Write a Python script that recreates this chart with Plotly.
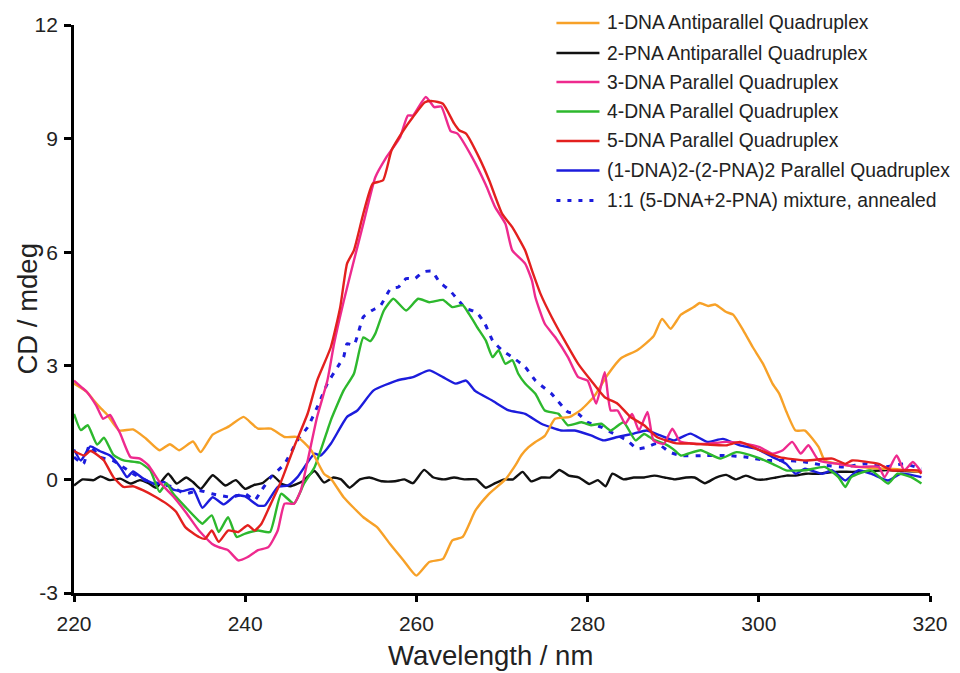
import plotly.graph_objects as go

# ---------------- data (wavelength in nm, CD in mdeg) ----------------
wl_1dna = [220, 221.5, 222.3, 223, 223.9, 225.3, 226.9, 228.4, 230, 231.2, 232.3, 233.9, 234.8,
           236.2, 238.1, 239.8, 240.8, 241.5, 243, 244.6, 246.1, 247.7, 249.2, 250, 251.5, 253.8,
           255.4, 256.9, 258.5, 260, 261.5, 263.1, 264.2, 265.4, 266.9, 268.4, 270.4, 271.5, 272.3,
           273.1, 273.9, 275, 276.2, 277.9, 279.3, 280.8, 282.3, 283.9, 285.8, 287.7, 288.7, 289.7,
           290.9, 292.4, 293.1, 294.1, 294.9, 296.2, 297, 298.2, 299.3, 300.5, 301.6, 302.4, 303.2,
           304.3, 305.4, 307, 307.7, 309.3, 311, 313, 315, 317, 319]
cd_1dna = [2.53, 2.31, 2.09, 1.91, 1.7, 1.29, 1.32, 1.08, 0.77, 0.93, 0.77, 1.0, 0.72,
           1.18, 1.4, 1.65, 1.47, 1.34, 1.34, 1.12, 1.12, 0.77, 0.15, 0.02, -0.47, -1.0,
           -1.26, -1.7, -2.14, -2.54, -2.18, -2.1, -1.61, -1.52, -0.82, -0.4, 0.0, 0.35, 0.65,
           0.85, 0.99, 1.15, 1.6, 1.65, 1.85, 2.2, 2.75, 3.2, 3.41, 3.78, 4.24, 3.98,
           4.35, 4.55, 4.66, 4.58, 4.62, 4.42, 4.35, 3.93, 3.49, 3.05, 2.53, 2.26, 1.8,
           1.29, 1.29, 0.85, 0.5, 0.41, 0.35, 0.3, 0.28, 0.25, 0.2]

wl_2pna = [220, 221, 222.3, 223.1, 224.2, 225.4, 226.6, 227.7, 228.7, 229.6, 231, 232, 233.1, 233.9,
           234.8, 236.2, 237.7, 238.9, 240, 241, 242, 243.2, 244.3, 245.3, 246.7, 248.1, 249.2,
           250.3, 251.2, 252.2, 253.4, 254.5, 256, 257.5, 258.6, 259.6, 260.9, 262, 263.2, 264.4,
           265.6, 267, 268.1, 269.2, 270.3, 271.3, 272.4, 273.4, 274.6, 275.6, 276.7, 277.8, 279,
           280.2, 281.2, 282.1, 282.9, 284.2, 285.4, 286.6, 287.8, 289, 290.2, 291.5, 292.5, 293.7,
           295, 296.2, 297.3, 298.5, 299.7, 300.8, 302, 303.2, 304.3, 305.5, 307, 309, 311, 313,
           315, 317, 319]
cd_2pna = [-0.16, 0.0, -0.02, 0.08, -0.02, 0.02, -0.11, -0.02, -0.1, -0.22, 0.15, -0.11, 0.05, -0.07,
           -0.25, 0.11, -0.16, -0.02, -0.25, -0.15, -0.1, 0.1, -0.12, -0.18, -0.05, 0.22, -0.08,
           0.05, 0.0, -0.22, 0.0, 0.05, -0.05, -0.05, 0.0, -0.1, 0.25, 0.05, 0.0, 0.05,
           0.0, 0.0, -0.22, -0.1, 0.0, 0.0, 0.2, -0.05, 0.05, 0.05, 0.25, 0.1, 0.05,
           -0.12, -0.02, -0.18, 0.15, 0.0, 0.05, 0.05, 0.1, 0.05, 0.0, 0.05, 0.05, -0.1,
           0.05, 0.12, 0.0, 0.1, 0.0, 0.0, 0.05, 0.1, 0.1, 0.15, 0.15, 0.2, 0.2, 0.22,
           0.25, 0.22, 0.2]

wl_3dna = [220, 220.8, 221.5, 222.6, 223.4, 224.2, 224.8, 225.4, 226.6, 227.7, 228.7, 230, 231.6,
           233.1, 234.6, 236.1, 236.9, 238, 239.2, 240.3, 241.5, 242.7, 243.8, 244.6, 245.7, 246.5,
           247.3, 248.4, 249.6, 250.4, 251.5, 252.7, 253.8, 255.2, 256.5, 258.1, 259, 259.6, 261.1,
           262.1, 262.9, 264, 264.8, 266.5, 268.1, 269.2, 270.4, 271.2, 272.7, 273.5, 273.9, 275,
           276.2, 277.7, 278.9, 280, 281, 282, 282.7, 283.5, 284.4, 285.2, 286, 287, 287.7, 288.9,
           289.9, 290.8, 292.4, 294, 296.2, 298.5, 300.1, 301.6, 302.8, 303.9, 304.9, 305.8, 307,
           309.3, 311.6, 314, 314.7, 316.1, 317, 318, 319]
cd_3dna = [2.61, 2.45, 2.31, 1.95, 1.6, 1.7, 1.47, 1.21, 0.59, 0.55, 0.37, -0.07, -0.45,
           -0.88, -1.35, -1.7, -1.79, -1.87, -2.14, -2.05, -1.87, -1.79, -1.35, -0.64, -0.64, -0.29,
           0.5, 1.65, 2.61, 3.6, 4.7, 5.78, 6.75, 7.98, 8.51, 9.04, 9.61, 9.61, 10.1,
           9.83, 9.85, 9.2, 9.13, 8.51, 7.78, 7.19, 6.75, 6.05, 5.7, 5.25, 4.81, 4.11,
           3.76, 3.23, 2.7, 2.61, 2.0, 2.83, 1.82, 1.82, 1.47, 1.73, 1.29, 1.78, 1.03, 0.94,
           1.34, 1.0, 0.94, 0.94, 0.99, 0.94, 0.85, 0.68, 0.77, 0.99, 0.68, 0.9, 0.5,
           0.41, 0.33, 0.33, 0.06, 0.63, 0.24, 0.46, 0.19]

wl_4dna = [220, 220.8, 221.6, 222.7, 223.5, 224.6, 225.8, 227.7, 228.9, 230, 230.8, 231.6, 233.1,
           234.6, 235, 236.1, 236.9, 238, 239, 240, 241.5, 242.9, 244.2, 245.7, 246.9, 248.1,
           249.6, 250, 251.5, 252.7, 253.8, 254.6, 255.2, 256.2, 257.3, 258.8, 260.2, 261.5, 263.1,
           264.2, 265.4, 266.2, 267.3, 268.1, 268.9, 269.6, 270.4, 271.2, 271.9, 272.7, 273.9, 275,
           276.6, 277.7, 279.3, 280.4, 281.6, 282.7, 284.2, 285.6, 286.6, 287.7, 288.9, 290, 290.9,
           293.2, 295.5, 297.4, 299.7, 301.6, 303.2, 305.4, 307.7, 309.3, 310.1, 310.8, 313.1, 315.1,
           316.2, 317.8, 319]
cd_4dna = [1.73, 1.3, 1.43, 0.92, 1.1, 0.65, 0.5, 0.44, 0.24, -0.33, -0.1, -0.38, -0.75,
           -1.1, -1.17, -0.95, -1.39, -1.0, -1.52, -1.43, -1.35, -1.39, -0.38, -0.64, -0.1, 0.32,
           1.29, 1.56, 2.35, 2.79, 3.75, 3.65, 3.85, 4.46, 4.77, 4.46, 4.77, 4.68, 4.74,
           4.55, 4.6, 4.35, 3.95, 3.67, 3.23, 3.41, 3.05, 3.15, 2.79, 2.53, 2.26, 1.82,
           1.73, 1.43, 1.51, 1.43, 1.47, 1.29, 1.51, 1.03, 1.2, 1.05, 0.95, 0.8, 0.63,
           0.77, 0.55, 0.72, 0.59, 0.41, 0.24, 0.24, 0.33, 0.06, -0.2, 0.06, 0.24, -0.11,
           0.15, 0.06, -0.11]

wl_5dna = [220, 221.2, 221.9, 223, 223.5, 224.6, 225.8, 226.9, 228.1, 229.6, 230.8, 231.9, 233,
           234.6, 235.3, 236.1, 236.9, 238, 239.2, 240.3, 241.1, 241.9, 243, 244.2, 245.7, 247.3,
           248.4, 250, 251.1, 251.9, 252.7, 253.8, 254.9, 256.1, 257.1, 258.5, 259.6, 261, 261.9,
           263.1, 264.4, 265, 265.8, 267.3, 268.5, 270, 271.2, 272.7, 273.5, 274.5, 275.8, 277.3,
           278.9, 280.4, 282, 283.5, 285, 286.6, 288.1, 290.4, 292, 294, 296.2, 297.8, 300.1,
           302.4, 305.5, 308.6, 310.1, 310.9, 314, 315.5, 318.6, 319]
cd_5dna = [0.75, 0.63, 0.75, 0.6, 0.5, 0.06, -0.2, -0.18, -0.29, -0.47, -0.64, -0.85, -1.26,
           -1.52, -1.57, -1.35, -1.65, -1.35, -1.39, -1.21, -1.35, -1.17, -0.64, -0.05, 0.85, 1.74,
           2.61, 3.49, 4.55, 5.7, 6.05, 7.02, 7.81, 7.9, 8.69, 9.22, 9.57, 9.96, 9.99,
           9.92, 9.4, 9.22, 9.13, 8.51, 7.9, 7.02, 6.66, 6.05, 5.52, 4.9, 4.29, 3.67,
           3.05, 2.61, 2.17, 2.0, 1.65, 1.43, 1.12, 0.95, 0.95, 0.92, 0.9, 0.99, 0.77,
           0.59, 0.5, 0.55, 0.41, 0.5, 0.41, 0.24, 0.24, 0.15]

wl_complex = [220, 220.8, 221.9, 223, 224.2, 225.4, 226.2, 226.9, 228.1, 229.6, 230.5, 231.6, 232.7,
              233.9, 235, 236.2, 237.5, 238.9, 240, 241.5, 242.3, 243.8, 245, 246.1, 248.1, 248.8,
              250, 251.9, 253.1, 255, 257.7, 259.6, 261.5, 263.1, 264.6, 265.8, 266.9, 268.8, 270.8,
              272.7, 274.6, 276.9, 278.5, 280.4, 281.9, 283.5, 285.4, 286.9, 288.5, 290.1, 292, 294,
              295.8, 297.8, 299.7, 301.6, 303.2, 304.3, 305.4, 307.4, 308.6, 310.1, 311.6, 313.1,
              315.1, 316.6, 319]
cd_complex = [0.79, 0.5, 0.87, 0.75, 0.63, 0.33, 0.06, 0.21, 0.02, -0.13, -0.07, -0.27, -0.31,
              -0.25, -0.75, -0.47, -0.66, -0.42, -0.45, -0.69, -0.69, -0.2, -0.16, 0.06, 0.68, 0.63,
              0.94, 1.65, 1.82, 2.35, 2.61, 2.7, 2.88, 2.7, 2.53, 2.61, 2.33, 2.09, 1.82,
              1.73, 1.47, 1.29, 1.29, 1.16, 1.03, 1.12, 1.21, 1.29, 1.16, 1.03, 1.21, 0.99,
              1.07, 0.9, 0.81, 0.59, 0.41, 0.15, 0.28, 0.15, 0.24, -0.03, 0.24, 0.15,
              -0.03, 0.15, 0.06]

wl_mix = [220, 221.1, 221.8, 223, 224.5, 226.9, 228.4, 229.9, 231.5, 233, 234.6, 236.1, 238.4,
          240, 241.1, 241.9, 243, 244.6, 246.1, 247.3, 248.6, 249.6, 250.8, 251.5, 251.9, 252.7,
          253.8, 254.8, 255.8, 257, 257.9, 258.8, 259.8, 260.8, 261.8, 262.7, 263.9, 264.9, 265.8,
          267, 268, 268.9, 270, 271.2, 272.7, 273.9, 274.8, 275.8, 277.7, 278.9, 280, 281.6,
          282.7, 284.6, 285.8, 286.9, 288.1, 289.6, 290.8, 293.9, 296.2, 298.5, 300.8, 303.1,
          305.4, 307.7, 310.1, 312.4, 314.7, 317, 319]
cd_mix = [0.59, 0.41, 0.9, 0.59, 0.5, 0.15, -0.03, -0.11, -0.2, -0.38, -0.29, -0.38, -0.47,
          -0.38, -0.55, -0.29, 0.06, 0.41, 1.03, 1.38, 2.0, 2.53, 2.97, 3.23, 3.58, 3.55,
          4.29, 4.46, 4.59, 5.04, 5.08, 5.3, 5.3, 5.48, 5.5, 5.21, 4.99, 4.73, 4.51,
          4.42, 4.11, 3.67, 3.41, 3.23, 2.97, 2.61, 2.44, 2.26, 1.78, 1.73, 1.51, 1.38,
          1.25, 1.03, 0.81, 0.85, 0.95, 0.72, 0.63, 0.63, 0.63, 0.59, 0.5, 0.5,
          0.46, 0.37, 0.33, 0.41, 0.33, 0.41, 0.28]

series_names = ["1-DNA Antiparallel Quadruplex",
                "2-PNA Antiparallel Quadruplex",
                "3-DNA Parallel Quadruplex",
                "4-DNA Parallel Quadruplex",
                "5-DNA Parallel Quadruplex",
                "(1-DNA)2-(2-PNA)2 Parallel Quadruplex",
                "1:1 (5-DNA+2-PNA) mixture, annealed"]
series_x = [wl_1dna, wl_2pna, wl_3dna, wl_4dna, wl_5dna, wl_complex, wl_mix]
series_y = [cd_1dna, cd_2pna, cd_3dna, cd_4dna, cd_5dna, cd_complex, cd_mix]
series_colors = ["#F7A128", "#111111", "#EE2A8E", "#2DB82D", "#E3201E", "#1C1CDC", "#1C1CDC"]
series_dash = ["solid", "solid", "solid", "solid", "solid", "solid", "5px,7px"]

x_ticks = [220, 240, 260, 280, 300, 320]
y_ticks = [-3, 0, 3, 6, 9, 12]

# ---------------- figure ----------------
FONT = "Liberation Sans, Arial, Helvetica, sans-serif"
fig = go.Figure()

order = [1, 5, 6, 3, 0, 2, 4]
for i in order:
    fig.add_trace(go.Scatter(
        x=series_x[i], y=series_y[i], mode="lines", name=series_names[i],
        line=dict(color=series_colors[i], width=3 if i == 6 else 2.4,
                  dash=series_dash[i], shape="spline", smoothing=0.5),
        showlegend=False, hoverinfo="skip"))

# manual legend (lines + text), paper coordinates
L, R, T, B = 74, 21, 25, 80
W, H = 960 - L - R, 673 - T - B
leg_rows_px = [23, 53, 82, 111.5, 141, 170.5, 200.5]
for i, name in enumerate(series_names):
    yp = (673 - B - leg_rows_px[i]) / H
    fig.add_shape(type="line", xref="paper", yref="paper",
                  x0=(561.5 - L) / W, x1=(605 - L) / W, y0=yp, y1=yp,
                  line=dict(color=series_colors[i], width=3 if i == 6 else 2.5,
                            dash="4px,7px" if i == 6 else "solid"))
    fig.add_annotation(xref="paper", yref="paper", x=(611 - L) / W, y=yp,
                       xanchor="left", yanchor="middle", showarrow=False,
                       text=name, font=dict(family=FONT, size=19.3, color="#222222"))

# axis titles as annotations for exact placement
fig.add_annotation(xref="paper", yref="paper", x=(494.5 - L) / W, y=(593 - 655) / H,
                   xanchor="center", yanchor="middle", showarrow=False,
                   text="Wavelength / nm", font=dict(family=FONT, size=27.5, color="#222222"))
fig.add_annotation(xref="paper", yref="paper", x=(27 - L) / W, y=0.5,
                   xanchor="center", yanchor="middle", showarrow=False, textangle=-90,
                   text="CD / mdeg", font=dict(family=FONT, size=27.5, color="#222222"))

fig.update_layout(
    width=960, height=673,
    margin=dict(l=L, r=R, t=T, b=B),
    paper_bgcolor="white", plot_bgcolor="white",
    font=dict(family=FONT, color="#222222"),
    showlegend=False,
)
fig.update_xaxes(range=[220, 320], tickvals=x_ticks, ticktext=[str(v) for v in x_ticks],
                 showgrid=False, zeroline=False, showline=True, linecolor="black", linewidth=2.7,
                 ticks="outside", ticklen=6, tickwidth=2.5, tickcolor="black",
                 ticklabelstandoff=4,
                 tickfont=dict(family=FONT, size=21, color="#222222"))
fig.update_yaxes(range=[-3, 12], tickvals=y_ticks, ticktext=[str(v) for v in y_ticks],
                 showgrid=False, zeroline=False, showline=True, linecolor="black", linewidth=2.7,
                 ticks="outside", ticklen=7, tickwidth=2.5, tickcolor="black",
                 ticklabelstandoff=2,
                 tickfont=dict(family=FONT, size=21, color="#222222"))

fig.write_html("out.html")
